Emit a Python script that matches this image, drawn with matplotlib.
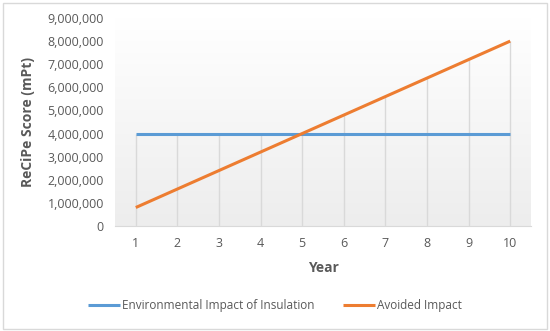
import matplotlib.pyplot as plt
import numpy as np
from matplotlib.patches import Rectangle

plt.rcParams['font.family'] = ['Open Sans', 'DejaVu Sans']

years = [1, 2, 3, 4, 5, 6, 7, 8, 9, 10]
insulation = [4000000, 4000000, 4000000, 4000000, 4000000,
              4000000, 4000000, 4000000, 4000000, 4000000]
avoided = [800000, 1600000, 2400000, 3200000, 4000000,
           4800000, 5600000, 6400000, 7200000, 8000000]
yticks = [0, 1000000, 2000000, 3000000, 4000000, 5000000,
          6000000, 7000000, 8000000, 9000000]

fig = plt.figure(figsize=(5.5, 3.31), dpi=100)
ax = fig.add_axes([115/550, 1 - 226/331, 416/550, 208/331])

# outer chart border
fig.patches.append(Rectangle((3/550, 2/331), 544/550, 326/331, transform=fig.transFigure,
                             fill=False, edgecolor='#d9d9d9', linewidth=1))

# gradient plot area
grad = np.linspace(0, 1, 256).reshape(-1, 1)
ax.imshow(grad, extent=[0.5, 10.5, 0, 9000000], aspect='auto', origin='upper',
          cmap=plt.matplotlib.colors.LinearSegmentedColormap.from_list('g', ['#ffffff', '#ededed']),
          zorder=0)

# drop lines
tops = [max(a, b) for a, b in zip(insulation, avoided)]
ax.vlines(years, 0, tops, color='#d9d9d9', linewidth=1, zorder=1)

ax.plot(years, insulation, color='#5B9BD5', linewidth=2.2, solid_capstyle='butt',
        label='Environmental Impact of Insulation', zorder=3)
ax.plot(years, avoided, color='#ED7D31', linewidth=2.2, solid_capstyle='butt',
        label='Avoided Impact', zorder=3)

ax.set_xlim(0.5, 10.5)
ax.set_ylim(0, 9000000)
ax.set_xticks(years)
ax.set_yticks(yticks)
ax.set_yticklabels([f'{v:,}' for v in yticks])
ax.tick_params(length=0, labelsize=9, colors='#595959', pad=8)
for s in ['top', 'right', 'left']:
    ax.spines[s].set_visible(False)
ax.spines['bottom'].set_color('#d9d9d9')

ax.set_xlabel('Year', fontsize=10, fontweight='bold', color='#595959', labelpad=8)
ax.set_ylabel('ReCiPe Score (mPt)', fontsize=10, fontweight='bold', color='#595959', labelpad=9)

fig.legend(loc='center', bbox_to_anchor=(0.5, 1 - 306/331), ncol=2, frameon=False,
           fontsize=8.5, labelcolor='#595959', handlelength=2.7, columnspacing=2.4,
           handletextpad=0.15)

fig.savefig('out.png', dpi=100)
